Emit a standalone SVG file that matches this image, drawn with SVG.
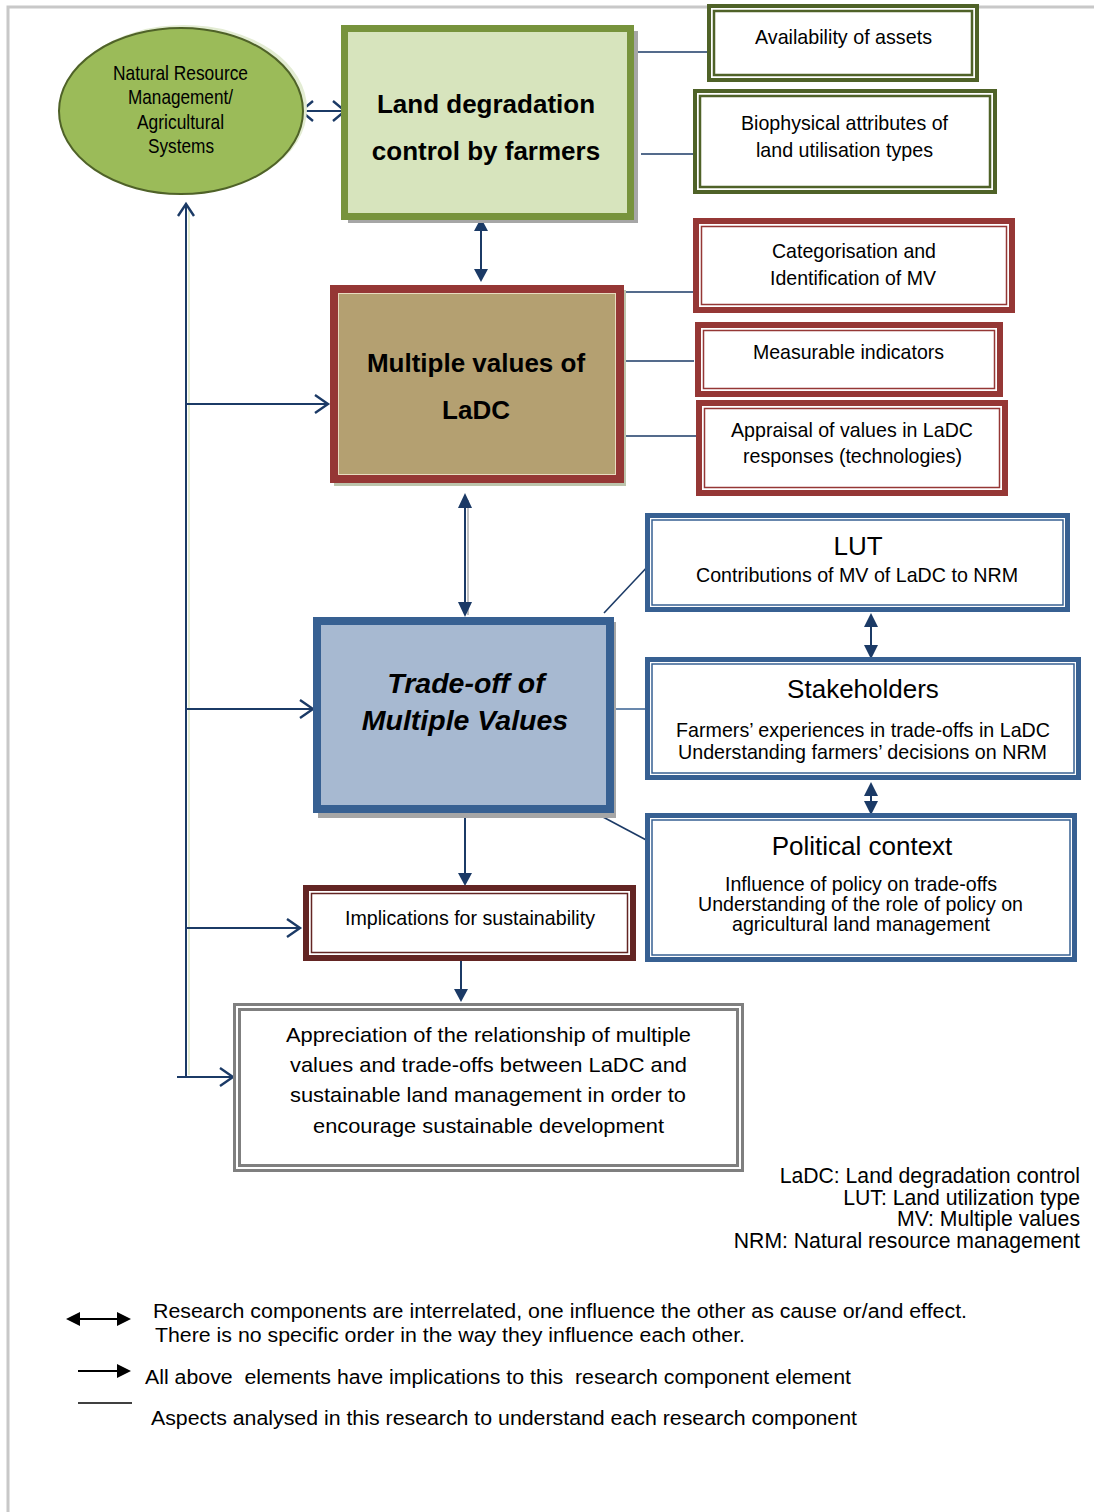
<svg xmlns="http://www.w3.org/2000/svg" width="1094" height="1512" viewBox="0 0 1094 1512">
  <style>
    text { fill: #000; }
    .n { font-family: "Liberation Sans Narrow", "Liberation Sans", Arial, sans-serif; font-size: 21px; text-anchor: middle; }
    .t { font-family: "Liberation Sans", Arial, sans-serif; font-size: 26px; text-anchor: middle; }
    .b { font-family: "Liberation Sans", Arial, sans-serif; font-size: 26px; font-weight: bold; text-anchor: middle; }
    .bi { font-family: "Liberation Sans", Arial, sans-serif; font-size: 28.5px; font-weight: bold; font-style: italic; text-anchor: middle; }
    .s { font-family: "Liberation Sans", Arial, sans-serif; font-size: 20px; }
    .ab { font-family: "Liberation Sans", Arial, sans-serif; font-size: 21.2px; text-anchor: end; }
    .conn { stroke: #1B3A66; stroke-width: 2; fill: none; }
    .thin { stroke: #1B3A66; stroke-width: 1.6; fill: none; }
    .chev { stroke: #1B3A66; stroke-width: 2.4; fill: none; stroke-linejoin: miter; }
    .head { fill: #1B3A66; }
    .gOut { fill: #fff; stroke: #4F6228; stroke-width: 4; }
    .gIn { fill: none; stroke: #4F6228; stroke-width: 2.5; }
    .rOut { fill: #fff; stroke: #953735; stroke-width: 6; }
    .rIn { fill: none; stroke: #953735; stroke-width: 1.5; }
    .uOut { fill: #fff; stroke: #376092; stroke-width: 5; }
    .uIn { fill: none; stroke: #376092; stroke-width: 1.5; }
    .kOut { fill: #fff; stroke: #632523; stroke-width: 6; }
    .kIn { fill: none; stroke: #632523; stroke-width: 1.5; }
    .gyOut { fill: #fff; stroke: #7F7F7F; stroke-width: 3; }
    .gyIn { fill: none; stroke: #7F7F7F; stroke-width: 3; }
    .lg { stroke: #000; stroke-width: 2.2; fill: none; }
  </style>

  <!-- page frame -->
  <path d="M8 1512 V7 H1094" fill="none" stroke="#C8C8C8" stroke-width="3"/>

  <!-- connectors -->
  <g id="connectors">
    <!-- ellipse <-> land degradation box -->
    <line class="conn" x1="301" y1="111" x2="345" y2="111"/>
    <polyline class="chev" points="313,101 301,111 313,121"/>
    <polyline class="chev" points="333,101 345,111 333,121"/>

    <!-- land degradation <-> multiple values -->
    <line class="conn" x1="481" y1="226" x2="481" y2="274"/>
    <polygon class="head" points="481,218 474,231 488,231"/>
    <polygon class="head" points="481,282 474,269 488,269"/>

    <!-- multiple values <-> trade-off -->
    <line x1="468" y1="500" x2="468" y2="615" stroke="#C0C0C0" stroke-width="2"/>
    <line class="conn" x1="465" y1="502" x2="465" y2="608"/>
    <polygon class="head" points="465,493 458,508 472,508"/>
    <polygon class="head" points="465,617 458,602 472,602"/>

    <!-- trade-off -> implications -->
    <line class="conn" x1="465" y1="815" x2="465" y2="876"/>
    <polygon class="head" points="465,886 458,873 472,873"/>

    <!-- implications -> appreciation -->
    <line class="conn" x1="461" y1="958" x2="461" y2="992"/>
    <polygon class="head" points="461,1002 454,989 468,989"/>

    <!-- LUT <-> stakeholders -->
    <line class="conn" x1="871" y1="620" x2="871" y2="652"/>
    <polygon class="head" points="871,613 864,627 878,627"/>
    <polygon class="head" points="871,659 864,645 878,645"/>

    <!-- stakeholders <-> political -->
    <line class="conn" x1="871" y1="789" x2="871" y2="808"/>
    <polygon class="head" points="871,782 864,796 878,796"/>
    <polygon class="head" points="871,815 864,801 878,801"/>

    <!-- feedback spine on the left -->
    <line x1="189" y1="210" x2="189" y2="1075" stroke="#E4EDD3" stroke-width="2"/>
    <line class="conn" x1="186" y1="204" x2="186" y2="1077"/>
    <polyline class="chev" points="178,216 186,204 194,216"/>
    <line class="conn" x1="186" y1="404" x2="327" y2="404"/>
    <polyline class="chev" points="315,395 328,404 315,413"/>
    <line class="conn" x1="186" y1="709" x2="312" y2="709"/>
    <polyline class="chev" points="300,700 313,709 300,718"/>
    <line class="conn" x1="186" y1="928" x2="299" y2="928"/>
    <polyline class="chev" points="287,919 300,928 287,937"/>
    <line class="conn" x1="177" y1="1077" x2="232" y2="1077"/>
    <polyline class="chev" points="220,1068 233,1077 220,1086"/>

    <!-- aspect links -->
    <line class="thin" x1="637" y1="52" x2="710" y2="52"/>
    <line class="thin" x1="641" y1="154" x2="698" y2="154"/>
    <line class="thin" x1="625" y1="292" x2="700" y2="292"/>
    <line class="thin" x1="618" y1="361" x2="694" y2="361"/>
    <line class="thin" x1="623" y1="436" x2="698" y2="436"/>
    <line class="thin" x1="604" y1="613" x2="650" y2="564"/>
    <line x1="604" y1="709" x2="647" y2="709" stroke="#376092" stroke-width="1.6"/>
    <line class="thin" x1="603" y1="817" x2="650" y2="842"/>
  </g>

  <!-- Natural Resource Management ellipse -->
  <g id="nrm">
    <ellipse cx="184" cy="109" rx="123" ry="84" fill="#E3ECD3"/>
    <ellipse cx="181" cy="111" rx="122" ry="83" fill="#9BBB59" stroke="#4F6228" stroke-width="2"/>
    <text class="n" font-size="19" x="180.5" y="80" textLength="135" lengthAdjust="spacingAndGlyphs">Natural Resource</text>
    <text class="n" font-size="19" x="180.5" y="104" textLength="105" lengthAdjust="spacingAndGlyphs">Management/</text>
    <text class="n" font-size="19" x="180.5" y="129" textLength="87" lengthAdjust="spacingAndGlyphs">Agricultural</text>
    <text class="n" font-size="19" x="181" y="153" textLength="66" lengthAdjust="spacingAndGlyphs">Systems</text>
  </g>

  <!-- Land degradation control -->
  <g id="ladc">
    <rect x="348" y="31" width="290" height="192" fill="#A6A6A6"/>
    <rect x="344.5" y="28.5" width="286" height="188" fill="#D7E4BD" stroke="#77933C" stroke-width="7"/>
    <text class="b" x="486" y="113">Land degradation</text>
    <text class="b" x="486" y="160">control by farmers</text>
  </g>

  <g id="assets">
    <rect class="gOut" x="709" y="6" width="268" height="74"/>
    <rect class="gIn" x="714" y="11" width="258" height="64"/>
    <text class="n" x="843.5" y="44" textLength="177" lengthAdjust="spacingAndGlyphs">Availability of assets</text>
  </g>

  <g id="biophysical">
    <rect class="gOut" x="695" y="91" width="300" height="101"/>
    <rect class="gIn" x="700" y="96" width="290" height="91"/>
    <text class="n" x="844.5" y="130" textLength="207" lengthAdjust="spacingAndGlyphs">Biophysical attributes of</text>
    <text class="n" x="844.5" y="157" textLength="177" lengthAdjust="spacingAndGlyphs">land utilisation types</text>
  </g>

  <!-- Multiple values -->
  <g id="mv">
    <rect x="334" y="290" width="292" height="196" fill="#BCC4AC"/>
    <rect x="334" y="289" width="286" height="190" fill="#B4A071" stroke="#953735" stroke-width="8"/>
    <rect x="338.5" y="293.5" width="277" height="181" fill="none" stroke="#E8DCC0" stroke-width="1"/>
    <text class="b" x="476" y="372">Multiple values of</text>
    <text class="b" x="476" y="419">LaDC</text>
  </g>

  <g id="categorisation">
    <rect class="rOut" x="696" y="221" width="316" height="89"/>
    <rect class="rIn" x="701.5" y="226.5" width="305" height="78"/>
    <text class="n" x="854" y="258" textLength="164" lengthAdjust="spacingAndGlyphs">Categorisation and</text>
    <text class="n" x="853" y="285" textLength="166" lengthAdjust="spacingAndGlyphs">Identification of MV</text>
  </g>

  <g id="indicators">
    <rect class="rOut" x="698" y="325" width="302" height="69"/>
    <rect class="rIn" x="703.5" y="330.5" width="291" height="58"/>
    <text class="n" x="848.5" y="359" textLength="191" lengthAdjust="spacingAndGlyphs">Measurable indicators</text>
  </g>

  <g id="appraisal">
    <rect class="rOut" x="699" y="403" width="306" height="90"/>
    <rect class="rIn" x="704.5" y="408.5" width="295" height="79"/>
    <text class="n" x="852" y="437" textLength="242" lengthAdjust="spacingAndGlyphs">Appraisal of values in LaDC</text>
    <text class="n" x="852.5" y="463" textLength="219" lengthAdjust="spacingAndGlyphs">responses (technologies)</text>
  </g>

  <!-- Trade-off -->
  <g id="tradeoff">
    <rect x="318" y="622" width="298" height="196" fill="#A6A6A6"/>
    <rect x="317" y="621" width="293" height="188" fill="#A7B9D1" stroke="#376092" stroke-width="8"/>
    <text class="bi" x="466" y="693">Trade-off of</text>
    <text class="bi" x="465" y="730">Multiple Values</text>
  </g>

  <g id="lut">
    <rect class="uOut" x="647.5" y="515.5" width="420" height="94"/>
    <rect class="uIn" x="652" y="520" width="411" height="85"/>
    <text class="t" x="858" y="555">LUT</text>
    <text class="n" x="857" y="582" textLength="322" lengthAdjust="spacingAndGlyphs">Contributions of MV of LaDC to NRM</text>
  </g>

  <g id="stakeholders">
    <rect class="uOut" x="647.5" y="659.5" width="431" height="118"/>
    <rect class="uIn" x="652" y="664" width="422" height="109"/>
    <text class="t" x="863" y="698">Stakeholders</text>
    <text class="n" x="863" y="737" textLength="374" lengthAdjust="spacingAndGlyphs">Farmers’ experiences in trade-offs in LaDC</text>
    <text class="n" x="862.5" y="759" textLength="369" lengthAdjust="spacingAndGlyphs">Understanding farmers’ decisions on NRM</text>
  </g>

  <g id="political">
    <rect class="uOut" x="647.5" y="815.5" width="427" height="144"/>
    <rect class="uIn" x="652" y="820" width="418" height="135"/>
    <text class="t" x="862" y="855">Political context</text>
    <text class="n" font-size="19.5" x="861" y="891" textLength="272" lengthAdjust="spacingAndGlyphs">Influence of policy on trade-offs</text>
    <text class="n" font-size="19.5" x="860.5" y="911" textLength="325" lengthAdjust="spacingAndGlyphs">Understanding of the role of policy on</text>
    <text class="n" font-size="19.5" x="861" y="931" textLength="258" lengthAdjust="spacingAndGlyphs">agricultural land management</text>
  </g>

  <g id="implications">
    <rect class="kOut" x="306" y="888" width="327" height="70"/>
    <rect class="kIn" x="311.5" y="893.5" width="316" height="59"/>
    <text class="n" x="470" y="925" textLength="250" lengthAdjust="spacingAndGlyphs">Implications for sustainability</text>
  </g>

  <g id="appreciation">
    <rect class="gyOut" x="234.5" y="1004.5" width="508" height="166"/>
    <rect class="gyIn" x="239.5" y="1009.5" width="498" height="156"/>
    <text class="n" font-size="25" x="488.5" y="1042" textLength="405" lengthAdjust="spacingAndGlyphs">Appreciation of the relationship of multiple</text>
    <text class="n" font-size="25" x="488.5" y="1072" textLength="397" lengthAdjust="spacingAndGlyphs">values and trade-offs between LaDC and</text>
    <text class="n" font-size="25" x="488" y="1102" textLength="396" lengthAdjust="spacingAndGlyphs">sustainable land management in order to</text>
    <text class="n" font-size="25" x="488.5" y="1133" textLength="351" lengthAdjust="spacingAndGlyphs">encourage sustainable development</text>
  </g>

  <!-- abbreviations -->
  <g id="abbreviations">
    <text class="ab" x="1080" y="1183">LaDC: Land degradation control</text>
    <text class="ab" x="1080" y="1205">LUT: Land utilization type</text>
    <text class="ab" x="1080" y="1226">MV: Multiple values</text>
    <text class="ab" x="1080" y="1248">NRM: Natural resource management</text>
  </g>

  <!-- legend -->
  <g id="legend">
    <line class="lg" x1="78" y1="1319" x2="120" y2="1319"/>
    <polygon points="66,1319 80,1312 80,1326" fill="#000"/>
    <polygon points="131,1319 117,1312 117,1326" fill="#000"/>
    <text class="s" x="153" y="1318" textLength="814" lengthAdjust="spacingAndGlyphs">Research components are interrelated, one influence the other as cause or/and effect.</text>
    <text class="s" x="155" y="1342" textLength="590" lengthAdjust="spacingAndGlyphs">There is no specific order in the way they influence each other.</text>

    <line class="lg" x1="78" y1="1371" x2="120" y2="1371"/>
    <polygon points="131,1371 117,1364 117,1378" fill="#000"/>
    <text class="s" x="145" y="1384" xml:space="preserve" textLength="706" lengthAdjust="spacingAndGlyphs">All above  elements have implications to this  research component element</text>

    <line x1="78" y1="1403" x2="132" y2="1403" stroke="#000" stroke-width="1.6"/>
    <text class="s" x="151" y="1425" textLength="706" lengthAdjust="spacingAndGlyphs">Aspects analysed in this research to understand each research component</text>
  </g>
</svg>
